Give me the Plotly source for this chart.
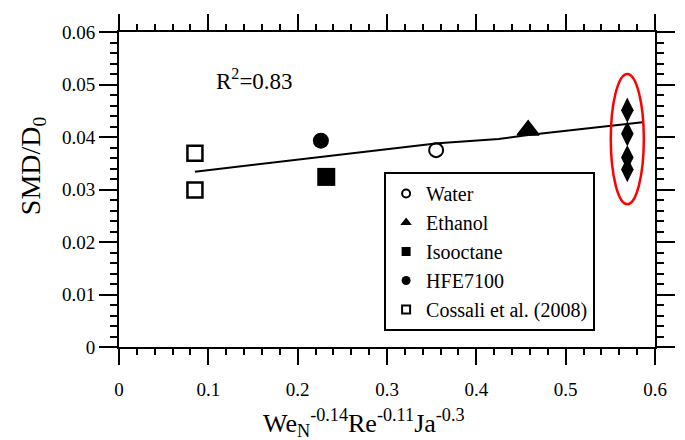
import plotly.graph_objects as go

# ---- data ----
water_x = [0.355]
water_y = [0.0375]
ethanol_x = [0.458]
ethanol_y = [0.0413]
isooctane_x = [0.232]
isooctane_y = [0.0324]
hfe_x = [0.226]
hfe_y = [0.0393]
cossali_x = [0.085, 0.085]
cossali_y = [0.0369, 0.0299]
diamond_x = [0.569, 0.569, 0.569, 0.569]
diamond_y = [0.0451, 0.0406, 0.0361, 0.0338]
fit_x = [0.085, 0.228, 0.357, 0.425, 0.458, 0.586]
fit_y = [0.0334, 0.0362, 0.0388, 0.0396, 0.0404, 0.0428]
ellipse_box = dict(x0=0.5505, x1=0.5875, y0=0.0272, y1=0.0520)

FONT = "Liberation Serif, Times New Roman, DejaVu Serif, serif"
fig = go.Figure()

# fit line
fig.add_trace(go.Scatter(x=fit_x, y=fit_y, mode="lines",
                         line=dict(color="black", width=2), showlegend=False))

# data markers (plot)
fig.add_trace(go.Scatter(x=cossali_x, y=cossali_y, mode="markers", showlegend=False,
                         marker=dict(symbol="square-open", size=15, color="black",
                                     line=dict(width=2.5, color="black"))))
fig.add_trace(go.Scatter(x=hfe_x, y=hfe_y, mode="markers", showlegend=False,
                         marker=dict(symbol="circle", size=16, color="black")))
fig.add_trace(go.Scatter(x=isooctane_x, y=isooctane_y, mode="markers", showlegend=False,
                         marker=dict(symbol="square", size=18, color="black")))
fig.add_trace(go.Scatter(x=water_x, y=water_y, mode="markers", showlegend=False,
                         marker=dict(symbol="circle-open", size=14, color="black",
                                     line=dict(width=2, color="black"))))
fig.add_trace(go.Scatter(x=ethanol_x, y=ethanol_y, mode="markers", showlegend=False,
                         marker=dict(symbol="triangle-up", size=19, color="black",
                                     line=dict(width=1.5, color="black"))))
fig.add_trace(go.Scatter(x=diamond_x, y=diamond_y, mode="markers", showlegend=False,
                         marker=dict(symbol="diamond-tall", size=18, color="black")))

# legend entries (small symbols)
legend_items = [
    ("Water", "circle-open", 8, 2),
    ("Ethanol", "triangle-up", 10, 0),
    ("Isooctane", "square", 9, 0),
    ("HFE7100", "circle", 9, 0),
    ("Cossali et al. (2008)", "square-open", 8, 2),
]
for i, (name, sym, sz, lw) in enumerate(legend_items):
    fig.add_trace(go.Scatter(x=[None], y=[None], mode="markers", name=name,
                             marker=dict(symbol=sym, size=sz, color="black",
                                         line=dict(width=lw, color="black"))))

# red ellipse
fig.add_shape(type="circle", xref="x", yref="y", **ellipse_box,
              line=dict(color="red", width=2.5))

axis_common = dict(
    showline=True, linecolor="black", linewidth=2, mirror="ticks",
    ticks="outside", tickcolor="black", tickwidth=2,
    showgrid=False, zeroline=False,
    tickfont=dict(family=FONT, size=19, color="black"),
)
fig.update_xaxes(range=[0, 0.6], dtick=0.1, tick0=0, ticklen=16,
                 minor=dict(dtick=0.02, ticklen=6, tickwidth=2, tickcolor="black", ticks="outside"),
                 ticklabelstandoff=8, **axis_common)
fig.update_yaxes(range=[0, 0.06], dtick=0.01, tick0=0, ticklen=18,
                 minor=dict(dtick=0.002, ticklen=7, tickwidth=2, tickcolor="black", ticks="outside"),
                 **axis_common)

fig.add_annotation(x=0.1068, y=0.0509, xref="x", yref="y", xanchor="left", yanchor="middle",
                   text="R<sup>2</sup>=0.83", showarrow=False,
                   font=dict(family=FONT, size=23, color="black"))
fig.add_annotation(x=0.4577, y=-0.2413, xref="paper", yref="paper",
                   xanchor="center", yanchor="middle", showarrow=False,
                   text="We<sub>N</sub><sup>-0.14</sup>Re<sup>-0.11</sup>Ja<sup>-0.3</sup>",
                   font=dict(family=FONT, size=26, color="black"))
fig.add_annotation(x=-0.162, y=0.5746, xref="paper", yref="paper",
                   xanchor="center", yanchor="middle", showarrow=False, textangle=-90,
                   text="SMD/D<sub>0</sub>",
                   font=dict(family=FONT, size=28, color="black"))

fig.update_layout(
    width=685, height=440,
    margin=dict(l=119, r=10, t=32, b=93),
    plot_bgcolor="white", paper_bgcolor="white",
    font=dict(family=FONT, color="black"),
    legend=dict(x=0.4946, y=0.5556, xanchor="left", yanchor="top",
                bgcolor="white", bordercolor="black", borderwidth=2,
                font=dict(family=FONT, size=20, color="black"),
                tracegroupgap=0),
)

fig.write_html("out.html")
